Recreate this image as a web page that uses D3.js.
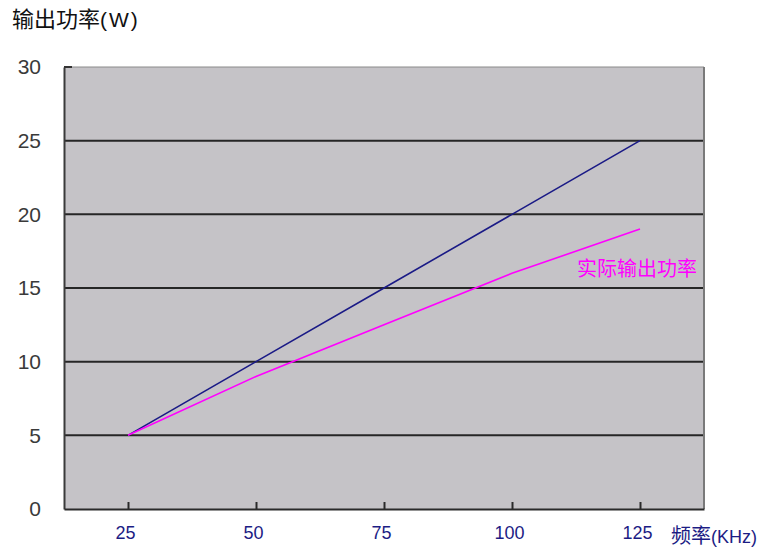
<!DOCTYPE html>
<html>
<head>
<meta charset="utf-8">
<script src="https://cdn.jsdelivr.net/npm/d3@7"></script>
<style>
  body { margin: 0; background: #fff; }
  svg { display: block; }
</style>
</head>
<body>
<svg id="chart" width="765" height="552"></svg>
<script>
// ---- data ----
const frequencies = [25, 50, 75, 100, 125];          // KHz
const idealPower = [5, 10, 15, 20, 25];              // W (blue line)
const actualPower = [5, 9, 12.5, 16, 19];            // W (magenta line)
const yTicks = [0, 5, 10, 15, 20, 25, 30];
const xTicks = [25, 50, 75, 100, 125];
const yTitleCJK = "输出功率", yTitleUnit = "(W)";
const xTitleCJK = "频率", xTitleUnit = "(KHz)";
const seriesLabel = "实际输出功率";

// ---- layout ----
const svg = d3.select("#chart");
const plot = { left: 64, top: 67, right: 704, bottom: 509 };

const x = d3.scaleLinear().domain([12.5, 137.5]).range([plot.left, plot.right]);
const y = d3.scaleLinear().domain([0, 30]).range([plot.bottom, plot.top]);

// plot background
svg.append("rect")
  .attr("x", plot.left).attr("y", plot.top)
  .attr("width", plot.right - plot.left).attr("height", plot.bottom - plot.top)
  .attr("fill", "#c5c3c7");

// gridlines
svg.append("g").selectAll("line")
  .data(yTicks.filter(d => d > 0 && d < 30))
  .join("line")
  .attr("x1", plot.left).attr("x2", plot.right)
  .attr("y1", d => y(d)).attr("y2", d => y(d))
  .attr("stroke", "#262626").attr("stroke-width", 2);

// top & right border
svg.append("line").attr("x1", plot.left).attr("x2", plot.right)
  .attr("y1", plot.top).attr("y2", plot.top)
  .attr("stroke", "#8a8a8a").attr("stroke-width", 1);
svg.append("line").attr("x1", plot.right).attr("x2", plot.right)
  .attr("y1", plot.top).attr("y2", plot.bottom)
  .attr("stroke", "#7a7a7a").attr("stroke-width", 2);
svg.append("line").attr("x1", plot.left).attr("x2", plot.left + 8)
  .attr("y1", plot.top).attr("y2", plot.top)
  .attr("stroke", "#333").attr("stroke-width", 2);

// y axis
const yAxis = svg.append("g")
  .attr("transform", `translate(${plot.left},0)`)
  .call(d3.axisLeft(y).tickValues(yTicks).tickSize(0).tickPadding(23));
yAxis.select(".domain").attr("stroke", "#3a3a3a").attr("stroke-width", 2);
yAxis.selectAll("text")
  .attr("font-family", "'Liberation Sans', Arial, sans-serif")
  .attr("font-size", 21).attr("fill", "#3a3a3a");

// x axis
const xAxis = svg.append("g")
  .attr("transform", `translate(0,${plot.bottom})`)
  .call(d3.axisBottom(x).tickValues(xTicks).tickSizeInner(-7).tickSizeOuter(0).tickPadding(17));
xAxis.select(".domain").attr("stroke", "#2a2a2a").attr("stroke-width", 2);
xAxis.selectAll(".tick line").attr("stroke", "#2a2a2a").attr("stroke-width", 2);
xAxis.selectAll("text")
  .attr("font-family", "'Liberation Sans', Arial, sans-serif")
  .attr("font-size", 18).attr("fill", "#1c1c84")
  .attr("dx", -3);

// lines
const line = d3.line().x((d, i) => x(frequencies[i])).y(d => y(d));
svg.append("path").datum(idealPower)
  .attr("d", line).attr("fill", "none")
  .attr("stroke", "#1a1a86").attr("stroke-width", 1.6);
svg.append("path").datum(actualPower)
  .attr("d", line).attr("fill", "none")
  .attr("stroke", "#ff00ff").attr("stroke-width", 1.6);

// texts
const t1 = svg.append("text").attr("x", 12).attr("y", 27).attr("fill", "#111");
t1.append("tspan").attr("font-family", "'Noto Sans CJK SC', sans-serif")
  .attr("font-size", 22).text(yTitleCJK);
t1.append("tspan").attr("font-family", "'Liberation Sans', sans-serif")
  .attr("font-size", 21).attr("letter-spacing", 2).text(yTitleUnit);

const t2 = svg.append("text").attr("x", 671).attr("y", 543).attr("fill", "#1c1c84");
t2.append("tspan").attr("font-family", "'Noto Sans CJK SC', sans-serif")
  .attr("font-size", 20).text(xTitleCJK);
t2.append("tspan").attr("font-family", "'Liberation Sans', sans-serif")
  .attr("font-size", 18).text(xTitleUnit);

svg.append("text").attr("x", 577).attr("y", 276)
  .attr("font-family", "'Noto Sans CJK SC', sans-serif")
  .attr("font-size", 20).attr("fill", "#ff00ff").text(seriesLabel);
</script>
</body>
</html>
